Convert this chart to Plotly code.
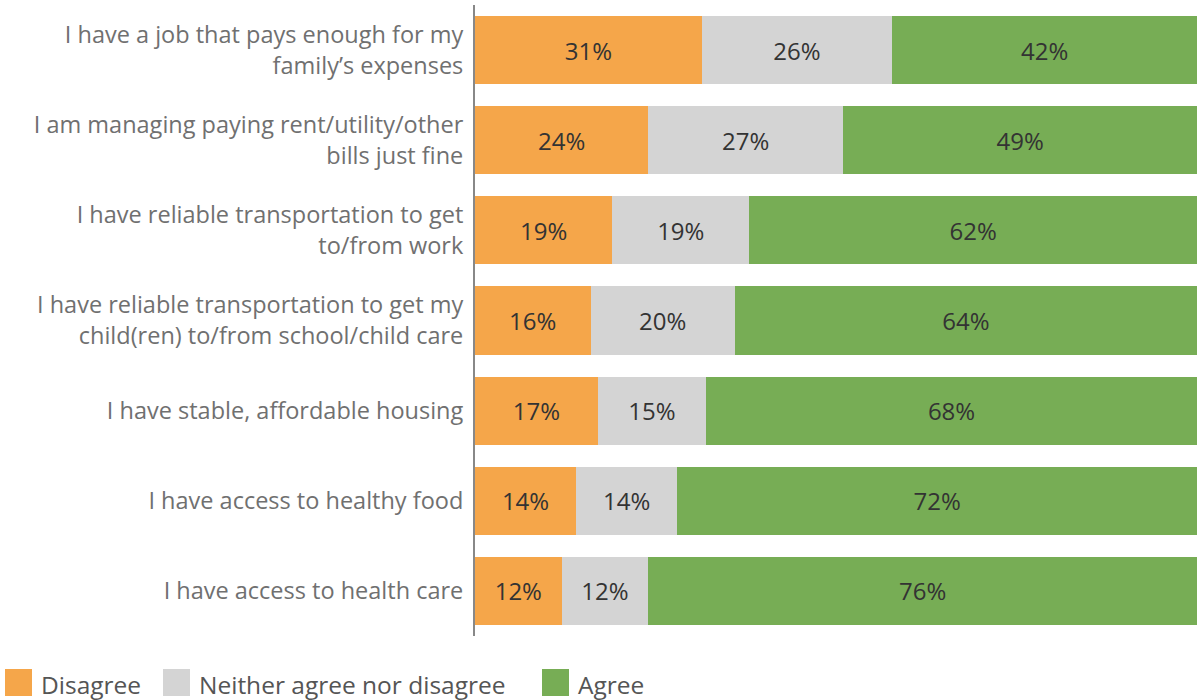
import plotly.graph_objects as go

# survey statements (top to bottom)
statements = [
    "I have a job that pays enough for my<br>family\u2019s expenses",
    "I am managing paying rent/utility/other<br>bills just fine",
    "I have reliable transportation to get<br>to/from work",
    "I have reliable transportation to get my<br>child(ren) to/from school/child care",
    "I have stable, affordable housing",
    "I have access to healthy food",
    "I have access to health care",
]

disagree = [31.4, 24, 19, 16, 17, 14, 12]
neither = [26.4, 27, 19, 20, 15, 14, 12]
agree = [42.2, 49, 62, 64, 68, 72, 76]

series_names = ["Disagree", "Neither agree nor disagree", "Agree"]
series_values = [disagree, neither, agree]
series_colors = ["#F5A64A", "#D4D4D4", "#77AD55"]

W, H = 1197, 700
ML, MR, MT, MB = 475, 0, 5, 64
PW, PH = W - ML - MR, H - MT - MB


def px_x(x):
    return (x - ML) / PW


def px_y(y):
    return (H - MB - y) / PH


FONT = "Open Sans"

fig = go.Figure()
for name, vals, col in zip(series_names, series_values, series_colors):
    fig.add_trace(go.Bar(
        y=statements,
        x=vals,
        name=name,
        orientation="h",
        marker=dict(color=col, line=dict(width=0)),
        text=vals,
        texttemplate="%{x:.0f}%",
        textposition="inside",
        insidetextanchor="middle",
        textfont=dict(family=FONT, size=24, color="#333333"),
        showlegend=False,
    ))

# legend drawn by hand (large square swatches)
legend_x = [5, 163, 542]
shapes = []
annotations = []
for name, col, lx in zip(series_names, series_colors, legend_x):
    shapes.append(dict(
        type="rect", xref="paper", yref="paper",
        x0=px_x(lx), x1=px_x(lx + 27), y0=px_y(696), y1=px_y(669),
        fillcolor=col, line=dict(width=0),
    ))
    annotations.append(dict(
        text=name, xref="paper", yref="paper",
        x=px_x(lx + 34), y=px_y(684), xanchor="left", yanchor="middle",
        showarrow=False, font=dict(family=FONT, size=24.5, color="#555555"),
    ))

fig.update_layout(
    barmode="stack",
    bargap=0.245,
    width=W,
    height=H,
    margin=dict(l=ML, r=MR, t=MT, b=MB),
    plot_bgcolor="white",
    paper_bgcolor="white",
    shapes=shapes,
    annotations=annotations,
    xaxis=dict(range=[0, 100], visible=False),
    yaxis=dict(
        autorange="reversed",
        showline=True,
        linecolor="#888888",
        linewidth=2,
        showgrid=False,
        ticks="",
        ticklabelstandoff=5,
        tickfont=dict(family=FONT, size=23.5, color="#707070"),
    ),
)

fig.write_html(
    "out.html",
    config={"displayModeBar": False},
    post_script="document.body.style.margin='0';",
)
